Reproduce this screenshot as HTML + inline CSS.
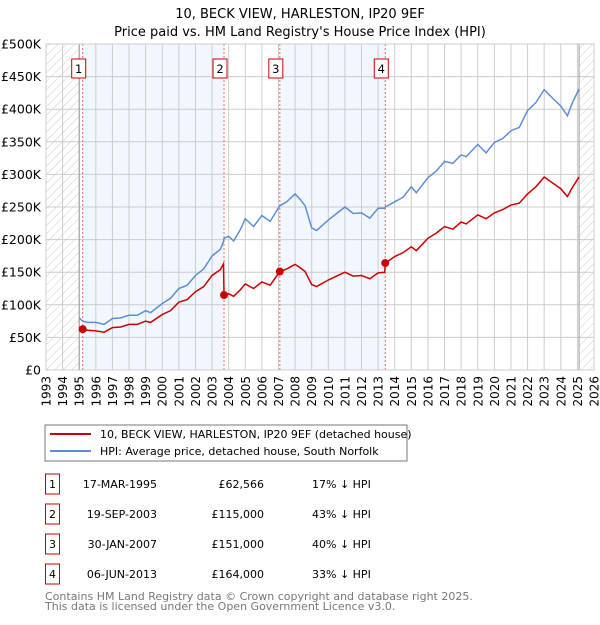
<!DOCTYPE html>
<html><head><meta charset="utf-8"><style>
body{margin:0;background:#fff;font-family:"Liberation Sans","DejaVu Sans",sans-serif;}
svg text{font-family:"DejaVu Sans","Liberation Sans",sans-serif;}
</style></head><body>
<svg id="c" width="600" height="620" xmlns="http://www.w3.org/2000/svg">
<defs><pattern id="hatch" width="6" height="6" patternUnits="userSpaceOnUse" patternTransform="rotate(45)"><line x1="0" y1="0" x2="0" y2="6" stroke="#ccc" stroke-width="1"/></pattern></defs>
<text x="300" y="18" text-anchor="middle" font-size="13">10, BECK VIEW, HARLESTON, IP20 9EF</text>
<text x="300" y="36" text-anchor="middle" font-size="13">Price paid vs. HM Land Registry's House Price Index (HPI)</text>
<g id="plot"></g>
<rect x="45" y="425" width="362" height="36" fill="#fff" stroke="#777"/>
<line x1="50" y1="434" x2="91" y2="434" stroke="#cc0000" stroke-width="2"/>
<text x="100" y="438" font-size="11">10, BECK VIEW, HARLESTON, IP20 9EF (detached house)</text>
<line x1="50" y1="451" x2="91" y2="451" stroke="#5b8ed6" stroke-width="2"/>
<text x="100" y="455" font-size="11">HPI: Average price, detached house, South Norfolk</text>
<g id="table" font-size="11"></g>
<text x="45" y="600" font-size="11" fill="#777">Contains HM Land Registry data © Crown copyright and database right 2025.</text>
<text x="45" y="610" font-size="11" fill="#777">This data is licensed under the Open Government Licence v3.0.</text>
</svg>
<script>
const hpiYears=[1995.0,1995.2,1995.5,1996.0,1996.5,1997.0,1997.5,1998.0,1998.5,1999.0,1999.3,2000.0,2000.5,2001.0,2001.5,2002.0,2002.5,2003.0,2003.5,2003.69,2003.72,2004.0,2004.3,2004.7,2005.0,2005.5,2006.0,2006.5,2007.08,2007.5,2008.0,2008.3,2008.6,2009.0,2009.3,2010.0,2010.5,2011.0,2011.5,2012.0,2012.5,2013.0,2013.4,2013.43,2014.0,2014.5,2015.0,2015.3,2016.0,2016.5,2017.0,2017.5,2018.0,2018.3,2019.0,2019.5,2020.0,2020.5,2021.0,2021.5,2022.0,2022.5,2023.0,2023.5,2024.0,2024.4,2024.7,2025.1];
const hpiValues=[80,75,73,73,70,79,80,84,84,91,88,102,110,125,130,145,155,175,185,197,202,205,198,215,232,220,237,228,252,258,270,262,252,218,214,230,240,250,240,241,233,248,248,250,258,265,281,272,295,305,320,317,330,327,346,333,349,355,367,372,398,410,430,417,405,390,410,431];
const priceValues=[66,62.5,61,60,58,65,66,70,70,75,73,85,91,104,108,120,128,145,154,163,115,117,113,123,132,125,135,130,151,155,162,157,151,131,128,138,144,150,144,145,140,149,150,164,174,180,189,183,202,210,220,216,227,224,238,232,241,246,253,256,270,281,296,287,278,266,280,296];
const saleLabels=["1","2","3","4"];
const saleYears=[1995.21,2003.72,2007.08,2013.43];
const salePrices=[62.566,115,151,164];
const saleDates=["17-MAR-1995","19-SEP-2003","30-JAN-2007","06-JUN-2013"];
const salePriceText=["£62,566","£115,000","£151,000","£164,000"];
const saleHpiText=["17% ↓ HPI","43% ↓ HPI","40% ↓ HPI","33% ↓ HPI"];
const yTicks=[0,50,100,150,200,250,300,350,400,450,500];
const yTickLabels=["£0","£50K","£100K","£150K","£200K","£250K","£300K","£350K","£400K","£450K","£500K"];
const xStart=1993,xEnd=2026;
const L=46,R=594,T=44,B=370;
const X=y=>L+(y-xStart)/(xEnd-xStart)*(R-L);
const Y=v=>B-v/500*(B-T);
const NS="http://www.w3.org/2000/svg";
const plot=document.getElementById('plot');
function mk(tag,attrs,parent){const e=document.createElementNS(NS,tag);for(const k in attrs)e.setAttribute(k,attrs[k]);(parent||plot).appendChild(e);return e;}
let e;
e=mk('rect',{x:L,y:T,width:R-L,height:B-T,fill:'#fff'});


e=mk('rect',{x:X(saleYears[0]),y:T,width:X(saleYears[1])-X(saleYears[0]),height:B-T,fill:'#f2f6fe'});


e=mk('rect',{x:X(saleYears[2]),y:T,width:X(saleYears[3])-X(saleYears[2]),height:B-T,fill:'#f2f6fe'});


e=mk('rect',{x:L,y:T,width:X(1995)-L,height:B-T,fill:'url(#hatch)'});


e=mk('rect',{x:X(2025.1),y:T,width:R-X(2025.1),height:B-T,fill:'url(#hatch)'});


for(let yr=xStart;yr<=xEnd;yr++){
 e=mk('line',{x1:X(yr),x2:X(yr),y1:T,y2:B,stroke:'#ccc','stroke-width':1});
 
 
 e=mk('text',{x:0,y:0,transform:`translate(${X(yr)+4.5},376) rotate(-90)`,'text-anchor':'end','font-size':12});
 e.textContent=yr;
 
 
}
yTicks.forEach((v,i)=>{
 e=mk('line',{x1:L,x2:R,y1:Y(v),y2:Y(v),stroke:'#ccc','stroke-width':1});
 
 
 e=mk('text',{x:41,y:Y(v)+4.5,'text-anchor':'end','font-size':12.5});
 e.textContent=yTickLabels[i];
 
 
});
e=mk('line',{x1:X(1995),x2:X(1995),y1:T,y2:B,stroke:'#999'});


e=mk('line',{x1:X(2025.1),x2:X(2025.1),y1:T,y2:B,stroke:'#999'});


saleYears.forEach((yr,i)=>{
 e=mk('line',{x1:X(yr),x2:X(yr),y1:T,y2:B,stroke:'#ee6666','stroke-dasharray':'2,2'});
 
 
});
e=mk('polyline',{points:hpiYears.map((y,i)=>X(y)+','+Y(hpiValues[i])).join(' '),fill:'none',stroke:'#5b8ed6','stroke-width':1.5});


e=mk('polyline',{points:hpiYears.map((y,i)=>X(y)+','+Y(priceValues[i])).join(' '),fill:'none',stroke:'#cc0000','stroke-width':1.5});


saleYears.forEach((yr,i)=>{
 e=mk('circle',{cx:X(yr),cy:Y(salePrices[i]),r:4,fill:'#cc0000'});
 
 
 const bx=X(yr)-11;
 e=mk('rect',{x:bx,y:59,width:14,height:19,fill:'#fff',stroke:'#cc0000'});
 
 
 e=mk('text',{x:bx+7,y:73,'text-anchor':'middle','font-size':11.5});
 e.textContent=saleLabels[i];
 
 
});
e=mk('rect',{x:L,y:T,width:R-L,height:B-T,fill:'none',stroke:'#ccc'});


const tbl=document.getElementById('table');
saleLabels.forEach((lab,i)=>{
 const cy=484+i*30;
 e=mk('rect',{x:45.5,y:cy-10,width:14,height:20,fill:'#fff',stroke:'#cc0000'},tbl);
 
 
 e=mk('text',{x:52.5,y:cy+4,'text-anchor':'middle'},tbl);e.textContent=lab;
 
 
 e=mk('text',{x:157,y:cy+4,'text-anchor':'end'},tbl);e.textContent=saleDates[i];
 
 
 e=mk('text',{x:264,y:cy+4,'text-anchor':'end'},tbl);e.textContent=salePriceText[i];
 
 
 e=mk('text',{x:312,y:cy+4},tbl);e.textContent=saleHpiText[i];
 
 
});
</script>
</body></html>
